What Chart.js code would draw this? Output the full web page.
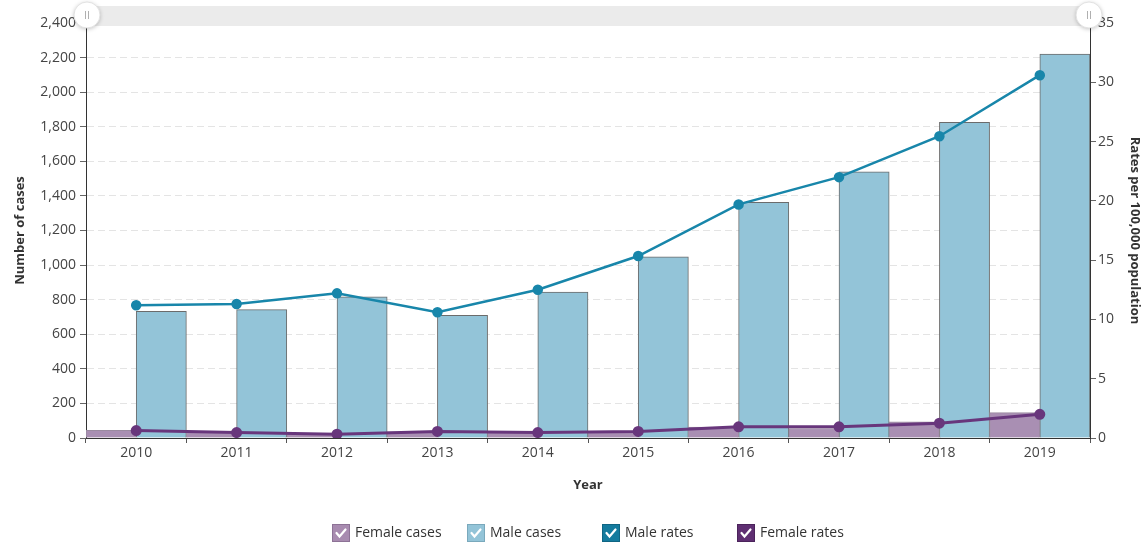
<!DOCTYPE html>
<html>
<head>
<meta charset="utf-8">
<script src="https://cdn.jsdelivr.net/npm/chart.js@4.4.1/dist/chart.umd.min.js"></script>
<style>
  html, body { margin: 0; padding: 0; background: #fff; }
  #wrap { width: 1143px; height: 544px; }
</style>
</head>
<body>
<div id="wrap"><canvas id="chart" width="1143" height="544"></canvas></div>
<script>
const years = ['2010', '2011', '2012', '2013', '2014', '2015', '2016', '2017', '2018', '2019'];
const femaleCases = [44, 34, 25, 36, 36, 37, 63, 55, 94, 147];
const maleCases = [732, 742, 816, 709, 844, 1048, 1363, 1539, 1825, 2220];
const maleRates = [11.2, 11.3, 12.2, 10.6, 12.5, 15.35, 19.7, 22.0, 25.45, 30.6];
const femaleRates = [0.63, 0.46, 0.32, 0.55, 0.46, 0.55, 0.94, 0.94, 1.25, 2.0];

const FONT = "'Open Sans', sans-serif";

// grey scrollbar strip with round grips above the plot
const scrollbar = {
  id: 'scrollbar',
  afterDraw(chart) {
    const { ctx, chartArea: a } = chart;
    ctx.save();
    ctx.fillStyle = '#ebebeb';
    ctx.fillRect(a.left, 6, a.right - a.left, 20);
    [a.left + 1, a.right - 1].forEach(x => {
      ctx.save();
      ctx.shadowColor = 'rgba(0,0,0,0.25)';
      ctx.shadowBlur = 4;
      ctx.shadowOffsetY = 1;
      ctx.beginPath();
      ctx.arc(x, 15, 13, 0, Math.PI * 2);
      ctx.fillStyle = '#fff';
      ctx.fill();
      ctx.restore();
      ctx.strokeStyle = '#e2e2e2';
      ctx.lineWidth = 1;
      ctx.stroke();
      ctx.strokeStyle = '#b0b0b0';
      ctx.beginPath();
      ctx.moveTo(x - 1.5, 11); ctx.lineTo(x - 1.5, 19);
      ctx.moveTo(x + 1.5, 11); ctx.lineTo(x + 1.5, 19);
      ctx.stroke();
    });
    ctx.restore();
  }
};

// checkbox legend under the x axis
const checkLegend = {
  id: 'checkLegend',
  afterDraw(chart) {
    const { ctx, chartArea: a } = chart;
    const slot = 135;
    const sets = chart.data.datasets;
    ctx.save();
    ctx.font = '14px ' + FONT;
    const lastW = 23 + ctx.measureText(sets[sets.length - 1].label).width;
    let x = Math.round((a.left + a.right) / 2 - (slot * (sets.length - 1) + lastW) / 2);
    const y = 524;
    sets.forEach(ds => {
      ctx.fillStyle = ds.legendFill;
      ctx.fillRect(x + 0.5, y + 0.5, 17, 17);
      ctx.strokeStyle = ds.legendEdge;
      ctx.lineWidth = 1;
      ctx.strokeRect(x + 0.5, y + 0.5, 17, 17);
      ctx.strokeStyle = '#fff';
      ctx.lineWidth = 2.2;
      ctx.lineCap = 'round';
      ctx.beginPath();
      ctx.moveTo(x + 4.5, y + 9);
      ctx.lineTo(x + 7.5, y + 12.5);
      ctx.lineTo(x + 13.5, y + 5.5);
      ctx.stroke();
      ctx.fillStyle = '#333';
      ctx.textBaseline = 'middle';
      ctx.fillText(ds.label, x + 23, y + 9.5);
      x += slot;
    });
    ctx.restore();
  }
};

new Chart(document.getElementById('chart'), {
  data: {
    labels: years,
    datasets: [
      {
        type: 'bar', label: 'Female cases', data: femaleCases, yAxisID: 'y', order: 2,
        backgroundColor: '#a98fb3', borderColor: '#9a8aa0', borderWidth: 1,
        barPercentage: 1, categoryPercentage: 1,
        legendFill: '#a88bb0', legendEdge: '#8d7296'
      },
      {
        type: 'bar', label: 'Male cases', data: maleCases, yAxisID: 'y', order: 2,
        backgroundColor: '#93c4d8', borderColor: '#6b6b6b', borderWidth: 1,
        barPercentage: 1, categoryPercentage: 1,
        legendFill: '#93c4d8', legendEdge: '#7aa9bc'
      },
      {
        type: 'line', label: 'Male rates', data: maleRates, yAxisID: 'y1', order: 1,
        borderColor: '#1886aa', backgroundColor: '#1886aa', borderWidth: 2.5,
        pointRadius: 4, pointHoverRadius: 4, tension: 0,
        legendFill: '#147b9e', legendEdge: '#0f6583'
      },
      {
        type: 'line', label: 'Female rates', data: femaleRates, yAxisID: 'y1', order: 0,
        borderColor: '#68367c', backgroundColor: '#68367c', borderWidth: 3,
        pointRadius: 4, pointHoverRadius: 4, tension: 0,
        legendFill: '#5f2f72', legendEdge: '#4b235b'
      }
    ]
  },
  options: {
    responsive: false,
    animation: false,
    layout: { padding: { top: 23, right: 0, bottom: 0, left: 0 } },
    plugins: {
      legend: { display: false },
      tooltip: { enabled: false }
    },
    scales: {
      x: {
        offset: true,
        grid: { offset: true, drawOnChartArea: false, tickLength: 5, tickColor: '#555' },
        border: { color: '#333', width: 1 },
        ticks: { color: '#444', padding: 2, font: { family: FONT, size: 14 } },
        title: {
          display: true, text: 'Year', color: '#333',
          font: { family: FONT, size: 13, weight: 'bold' },
          padding: { top: 0, bottom: 51 }
        },
        afterFit(s) { s.height = 106; }
      },
      y: {
        position: 'left', min: 0, max: 2400,
        ticks: { stepSize: 200, color: '#444', padding: 4, font: { family: FONT, size: 14 } },
        grid: { color: '#e4e4e4', tickColor: '#666', tickLength: 6 },
        border: { color: '#333', width: 1, dash: [7, 4] },
        title: {
          display: true, text: 'Number of cases', color: '#333',
          font: { family: FONT, size: 13, weight: 'bold' },
          padding: { top: 12, bottom: 0 }
        },
        afterFit(s) { s.width = 86; }
      },
      y1: {
        position: 'right', min: 0, max: 35,
        ticks: { stepSize: 5, color: '#444', padding: 2, font: { family: FONT, size: 14 } },
        grid: { drawOnChartArea: false, tickColor: '#666', tickLength: 6 },
        border: { color: '#333', width: 1 },
        title: {
          display: true, text: 'Rates per 100,000 population', color: '#333',
          font: { family: FONT, size: 13, weight: 'bold' },
          padding: { top: 0, bottom: 0 }
        },
        afterFit(s) { s.width = 53; }
      }
    }
  },
  plugins: [scrollbar, checkLegend]
});
</script>
</body>
</html>
